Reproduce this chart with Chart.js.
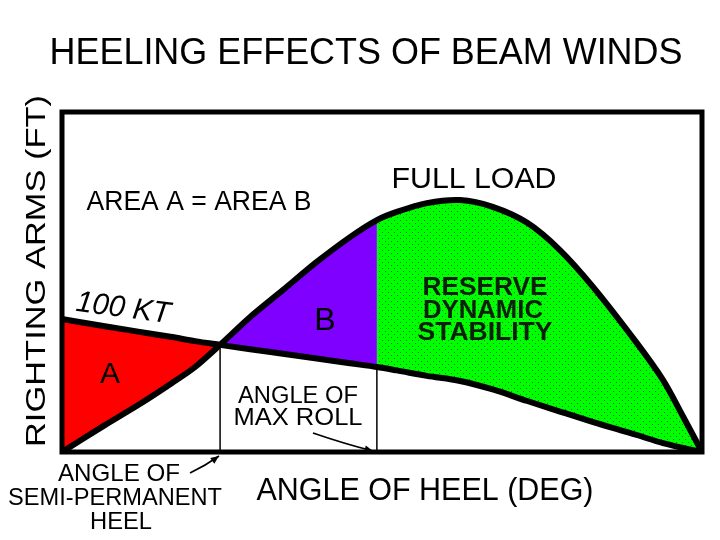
<!DOCTYPE html>
<html>
<head>
<meta charset="utf-8">
<script src="https://cdn.jsdelivr.net/npm/chart.js@4.4.1/dist/chart.umd.min.js"></script>
<style>
  html, body { margin: 0; padding: 0; background: #fff; }
</style>
</head>
<body>
<canvas id="heelChart" width="720" height="540"></canvas>
<script>
// angle of heel (0-100 = full range of the plot), arms as % of plot height
var angles        = [0, 6.7, 11.9, 17.2, 20.8, 24.7, 29.4, 34.5, 39.8, 45.0, 49.2, 52.3, 57.0, 62.2, 67.3, 72.7, 77.8, 83.0, 89.8, 93.9, 97.0, 100]
var rightingArms  = [0, 7.9, 13.8, 20.3, 25.0, 31.5, 39.7, 47.6, 55.9, 63.2, 68.2, 70.6, 73.2, 74.1, 72.1, 67.4, 59.4, 48.5, 32.1, 21.2, 10.6, 0]
var heelingArms   = [39.1, 37.0, 35.4, 33.8, 32.6, 31.5, 30.2, 28.9, 27.5, 26.1, 25.0, 24.0, 22.4, 20.9, 18.4, 15.0, 11.9, 8.8, 5.0, 2.6, 1.2, 0]
var semiPermIdx = 5   // angle of semi-permanent heel
var maxRollIdx = 10   // angle of max roll

var FONT = '"Liberation Sans Narrow", "Liberation Sans", Arial, sans-serif'
var RA_TENSION = 0.3

function pts(ys, from, to) {
  var out = []
  for (var i = from; i <= to; i++) {
    out.push({ x: angles[i], y: ys[i] })
  }
  return out
}

// green dotted fill like the original
function dotPattern() {
  var c = document.createElement('canvas')
  c.width = 6
  c.height = 6
  var g = c.getContext('2d')
  g.fillStyle = '#00ff00'
  g.fillRect(0, 0, 6, 6)
  g.fillStyle = '#1f6a1f'
  g.fillRect(1, 1, 1, 1)
  g.fillRect(4, 4, 1, 1)
  return g.createPattern(c, 'repeat')
}

function fillPair(lastIdx, first, last, colour) {
  return [
    {
      data: pts(heelingArms, first, last),
      borderWidth: 0,
      pointRadius: 0,
      fill: false,
      cubicInterpolationMode: 'monotone',
      order: 5
    },
    {
      data: pts(rightingArms, first, last),
      borderWidth: 0,
      pointRadius: 0,
      backgroundColor: colour,
      fill: lastIdx,
      tension: RA_TENSION,
      order: 5
    }
  ]
}

var last = angles.length - 1
var datasets = []
datasets = datasets.concat(fillPair(0, 0, semiPermIdx, '#ff0000'))
datasets = datasets.concat(fillPair(2, semiPermIdx, maxRollIdx, '#7f00ff'))
datasets = datasets.concat(fillPair(4, maxRollIdx, last, dotPattern()))

// thin verticals at the two angles
datasets.push({
  data: [{ x: angles[semiPermIdx], y: 0 }, { x: angles[semiPermIdx], y: heelingArms[semiPermIdx] }],
  borderColor: '#000', borderWidth: 1.5, pointRadius: 0, fill: false, order: 3
})
datasets.push({
  data: [{ x: angles[maxRollIdx], y: 0 }, { x: angles[maxRollIdx], y: heelingArms[maxRollIdx] }],
  borderColor: '#000', borderWidth: 1.5, pointRadius: 0, fill: false, order: 3
})

// the two curves
datasets.push({
  label: 'Righting arm',
  data: pts(rightingArms, 0, last),
  borderColor: '#000', borderWidth: 6, pointRadius: 0, fill: false,
  tension: RA_TENSION, borderCapStyle: 'round', borderJoinStyle: 'round', order: 1
})
datasets.push({
  label: 'Heeling arm 100 KT',
  data: pts(heelingArms, 0, last),
  borderColor: '#000', borderWidth: 6, pointRadius: 0, fill: false,
  cubicInterpolationMode: 'monotone', borderCapStyle: 'round', borderJoinStyle: 'round', order: 1
})

function drawText(ctx, text, x, y, opts) {
  opts = opts || {}
  ctx.save()
  ctx.font = (opts.style || '') + ' ' + opts.size + 'px ' + FONT
  ctx.fillStyle = opts.color || '#000'
  ctx.textAlign = 'center'
  ctx.textBaseline = 'alphabetic'
  ctx.translate(x, y)
  if (opts.rotate) ctx.rotate(opts.rotate * Math.PI / 180)
  if (opts.width) {
    var w = ctx.measureText(text).width
    ctx.scale(opts.width / w, 1)
  }
  ctx.fillText(text, 0, 0)
  ctx.restore()
}

function arrow(ctx, x0, y0, cx, cy, x1, y1) {
  ctx.save()
  ctx.strokeStyle = '#000'
  ctx.fillStyle = '#000'
  ctx.lineWidth = 1.6
  ctx.beginPath()
  ctx.moveTo(x0, y0)
  ctx.quadraticCurveTo(cx, cy, x1, y1)
  ctx.stroke()
  var a = Math.atan2(y1 - cy, x1 - cx)
  ctx.beginPath()
  ctx.moveTo(x1, y1)
  ctx.lineTo(x1 - 9 * Math.cos(a - 0.4), y1 - 9 * Math.sin(a - 0.4))
  ctx.lineTo(x1 - 9 * Math.cos(a + 0.4), y1 - 9 * Math.sin(a + 0.4))
  ctx.closePath()
  ctx.fill()
  ctx.restore()
}

var decorations = {
  id: 'decorations',
  afterDraw: function(chart) {
    var ctx = chart.ctx
    var a = chart.chartArea

    ctx.save()
    ctx.strokeStyle = '#000'
    ctx.lineWidth = 5
    ctx.strokeRect(a.left, a.top, a.right - a.left, a.bottom - a.top)
    ctx.restore()

    drawText(ctx, 'HEELING EFFECTS OF BEAM WINDS', 366, 64, { size: 37, width: 633 })
    drawText(ctx, 'RIGHTING ARMS (FT)', 45, 271, { size: 28, width: 352, rotate: -90 })
    drawText(ctx, 'AREA A = AREA B', 199, 210, { size: 28, width: 225 })
    drawText(ctx, 'FULL LOAD', 474, 188, { size: 29, width: 165 })
    drawText(ctx, '100 KT', 122, 317, { size: 30, width: 95, rotate: 7.5, style: 'italic' })
    drawText(ctx, 'A', 110, 383, { size: 30 })
    drawText(ctx, 'B', 325, 330, { size: 32 })
    drawText(ctx, 'RESERVE', 485, 295, { size: 25, width: 125, style: 'bold', color: '#0c200c' })
    drawText(ctx, 'DYNAMIC', 483, 318, { size: 25, width: 120, style: 'bold', color: '#0c200c' })
    drawText(ctx, 'STABILITY', 485, 340, { size: 25, width: 135, style: 'bold', color: '#0c200c' })
    drawText(ctx, 'ANGLE OF', 298, 403, { size: 23, width: 120 })
    drawText(ctx, 'MAX ROLL', 298, 425, { size: 23, width: 129 })
    drawText(ctx, 'ANGLE OF', 119, 481, { size: 24, width: 122 })
    drawText(ctx, 'SEMI-PERMANENT', 115, 505, { size: 24, width: 214 })
    drawText(ctx, 'HEEL', 121, 529, { size: 24, width: 62 })
    drawText(ctx, 'ANGLE OF HEEL (DEG)', 425, 500, { size: 32, width: 337 })

    arrow(ctx, 313, 433, 345, 444, 373, 451)
    arrow(ctx, 190, 473, 205, 466, 219, 456)
  }
}

var ctx = document.getElementById('heelChart').getContext('2d')
var heelChart = new Chart(ctx, {
  type: 'line',
  data: { datasets: datasets },
  options: {
    responsive: false,
    animation: false,
    layout: {
      padding: { left: 62, right: 18, top: 112, bottom: 88 }
    },
    plugins: {
      legend: { display: false },
      tooltip: { enabled: false }
    },
    scales: {
      x: { type: 'linear', min: 0, max: 100, display: false },
      y: { type: 'linear', min: 0, max: 100, display: false }
    }
  },
  plugins: [decorations]
})
</script>
</body>
</html>
